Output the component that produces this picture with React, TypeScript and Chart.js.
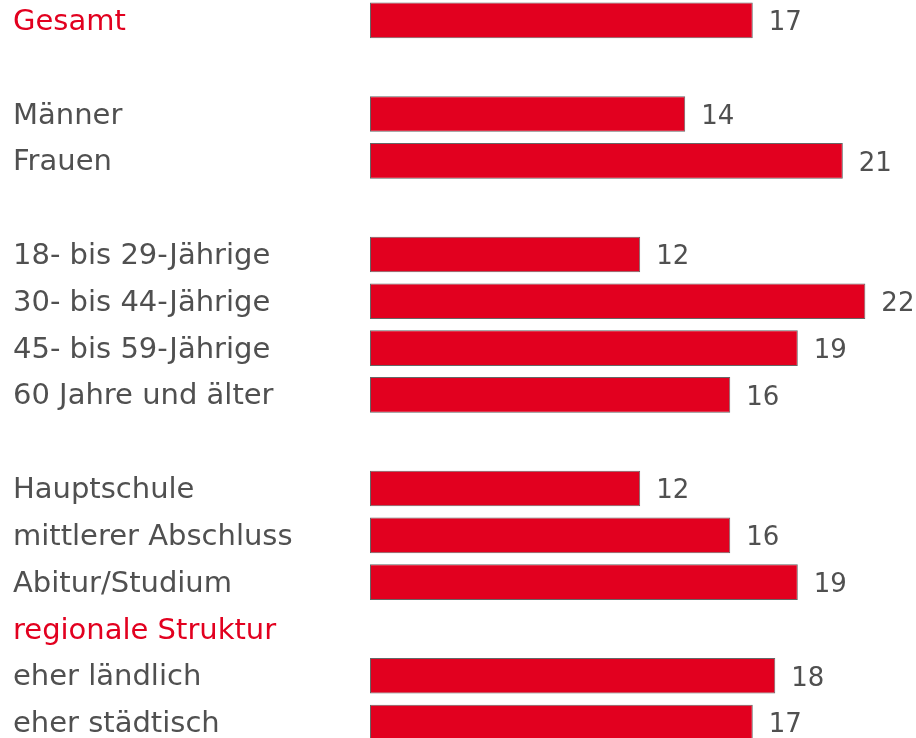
import React, { useEffect, useRef } from "react";
import { Chart, registerables } from "chart.js";

Chart.register(...registerables);

const categories: string[] = [
  "Gesamt",
  "",
  "Männer",
  "Frauen",
  "",
  "18- bis 29-Jährige",
  "30- bis 44-Jährige",
  "45- bis 59-Jährige",
  "60 Jahre und älter",
  "",
  "Hauptschule",
  "mittlerer Abschluss",
  "Abitur/Studium",
  "regionale Struktur",
  "eher ländlich",
  "eher städtisch",
];

const values: (number | null)[] = [
  17, null, 14, 21, null, 12, 22, 19, 16, null, 12, 16, 19, null, 18, 17,
];

const headerLabels: string[] = ["Gesamt", "regionale Struktur"];

const RED = "#e2001f";
const GRAY = "#505050";
const FONT = "'DejaVu Sans', Verdana, sans-serif";

const valueLabelPlugin = {
  id: "valueLabels",
  afterDatasetsDraw(chart: any) {
    const ctx = chart.ctx;
    const meta = chart.getDatasetMeta(0);
    ctx.save();
    ctx.font = `26px ${FONT}`;
    ctx.fillStyle = GRAY;
    ctx.textAlign = "left";
    ctx.textBaseline = "middle";
    meta.data.forEach((el: any, i: number) => {
      const v = values[i];
      if (v === null || v === undefined) return;
      ctx.fillText(String(v), el.x + 16, el.y + 3);
    });
    ctx.restore();
  },
};

export default function App() {
  const canvasRef = useRef<HTMLCanvasElement | null>(null);

  useEffect(() => {
    if (!canvasRef.current) return;
    const chart = new Chart(canvasRef.current, {
      type: "bar",
      data: {
        labels: categories,
        datasets: [
          {
            data: values as any,
            backgroundColor: RED,
            borderColor: "#666666",
            borderWidth: 1,
            borderSkipped: false,
            barPercentage: 0.76,
            categoryPercentage: 1,
          },
        ],
      },
      options: {
        indexAxis: "y",
        animation: false,
        responsive: false,
        maintainAspectRatio: false,
        layout: { padding: { left: 13, right: 0, top: 0, bottom: 0 } },
        plugins: {
          legend: { display: false },
          tooltip: { enabled: false },
        },
        scales: {
          x: {
            display: false,
            min: 0,
            max: 24.25,
          },
          y: {
            grid: { display: false },
            border: { display: false },
            ticks: {
              crossAlign: "far",
              padding: 0,
              labelOffset: 2,
              autoSkip: false,
              font: { family: FONT, size: 29 },
              color: (ctx: any) =>
                headerLabels.includes(categories[ctx.index]) ? RED : GRAY,
            },
            afterFit: (scale: any) => {
              scale.width = 357;
              scale.paddingTop = 0;
              scale.paddingBottom = 0;
            },
          },
        },
      },
      plugins: [valueLabelPlugin],
    });
    return () => chart.destroy();
  }, []);

  return (
    <div
      style={{
        position: "fixed",
        left: 0,
        top: -3,
        width: 916,
        height: 749,
        background: "#fff",
      }}
    >
      <canvas ref={canvasRef} width={916} height={749} style={{ display: "block" }} />
    </div>
  );
}
